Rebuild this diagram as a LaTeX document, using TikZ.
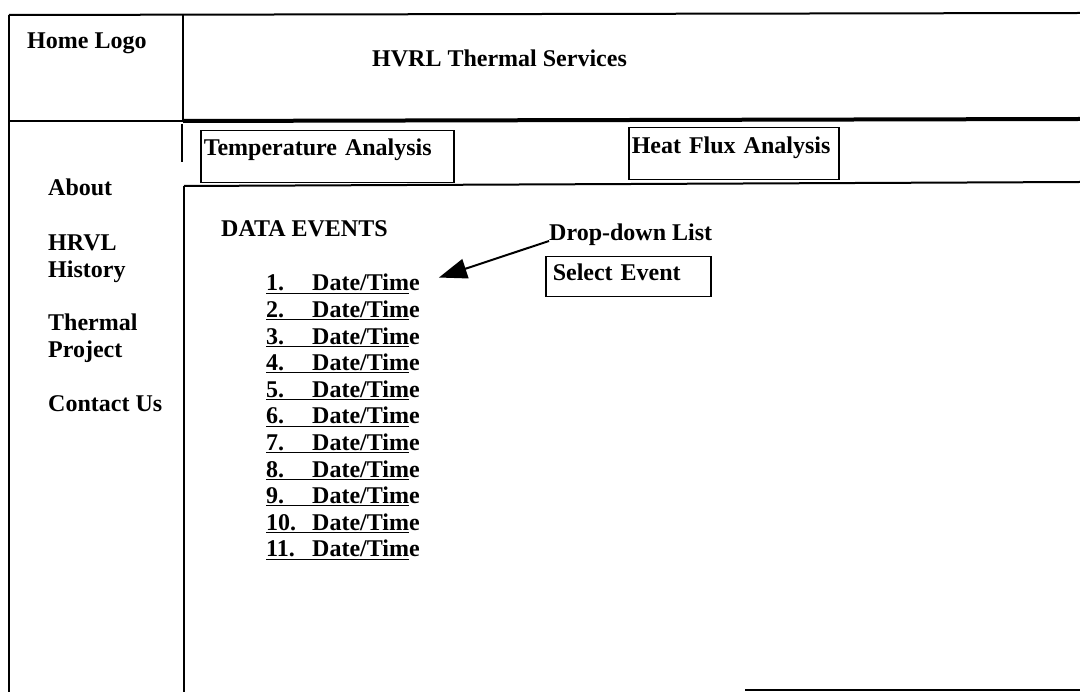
\documentclass[tikz,border=0pt]{standalone}
\usepackage{fontspec}
\setmainfont{Liberation Serif}
\usetikzlibrary{arrows.meta, positioning, calc}
\tikzset{
    frame/.style={draw=black, line width=2pt},
    heading/.style={
        inner sep=0pt, anchor=base west,
        font=\fontsize{24}{27}\selectfont\bfseries
    },
    menu/.style={
        heading, align=left
    },
    tab/.style={
        rectangle, draw=black, line width=1.5pt,
        anchor=north west, align=left,
        inner xsep=3pt, inner ysep=0pt,
        text height=25pt, text depth=27pt,
        font=\fontsize{24}{27}\selectfont\bfseries
    },
    selectbox/.style={
        rectangle, draw=black, line width=1.5pt,
        anchor=north west, align=left,
        inner xsep=7pt, inner ysep=0pt,
        text height=24pt, text depth=16pt,
        font=\fontsize{24}{27}\selectfont\bfseries
    },
    eventitem/.style={heading},
    pointer/.style={draw=black, line width=2pt, -{Triangle[length=28pt, width=20pt]}}
}

\begin{document}
\begin{tikzpicture}[x=1pt, y=-1pt]
\useasboundingbox (0,0) rectangle (1080,692);

% Page frame
\draw[frame] (9,15) -- (1080,13);
\draw[frame] (9,15) -- (9,692);
\draw[frame] (183,15) -- (183,121);
\draw[frame] (9,121) -- (183,121);
\draw[frame, line width=4pt] (183,121) -- (1080,119);
\draw[frame] (182,124) -- (182,162);
\draw[frame] (184,186) -- (1080,182);
\draw[frame] (184,186) -- (184,692);
\draw[frame] (745,690) -- (1080,690);

% Header
\node[heading] (logo) at (27,49) {Home Logo};
\node[heading] (title) at (372,67) {HVRL Thermal Services};

% Tabs
\node[tab, text width=247pt] (temptab) at (200,130) {Temperature Analysis};
\node[tab, text width=204pt, text height=26pt, text depth=26pt] (fluxtab) at (628,127) {Heat Flux Analysis};

% Side menu (base = last line)
\node[menu] (about) at (48,196) {About};
\node[menu] (history) at (48,278) {HRVL\\History};
\node[menu] (project) at (48,358) {Thermal\\Project};
\node[menu] (contact) at (48,412) {Contact Us};

% Event list
\node[heading] (events) at (221,237) {DATA EVENTS};
\foreach \i in {1,...,11}
    \node[eventitem] (ev\i) at (266,{291+(\i-1)*26.6})
        {\underline{\makebox[46pt][l]{\i.}Date/Tim}e};

% Drop-down list
\node[heading] (dropdown) at (549,241) {Drop-down List};
\node[selectbox, text width=151pt] (select) at (545,256) {Select Event};
\draw[pointer, shorten >=20pt] (dropdown.base west) -- (ev1.east);

\end{tikzpicture}
\end{document}
